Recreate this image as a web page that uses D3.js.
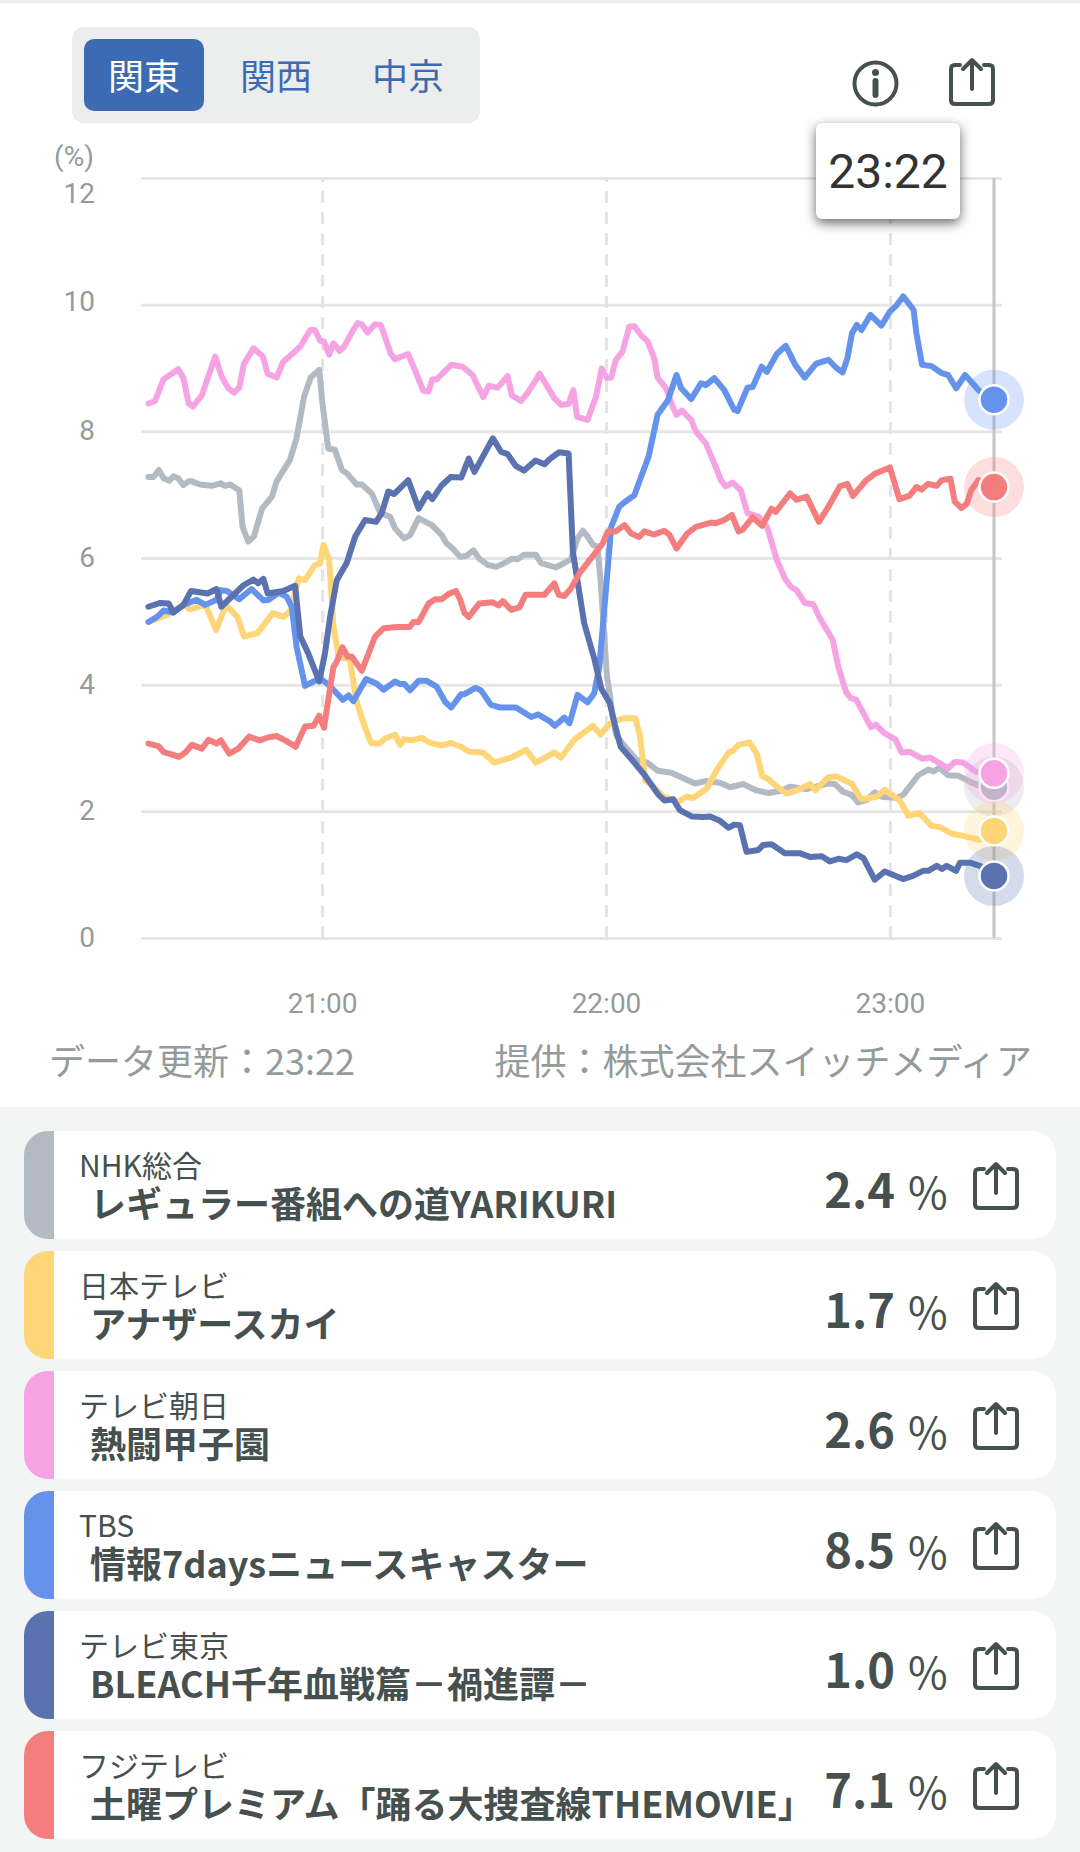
<!DOCTYPE html>
<html lang="ja">
<head>
<meta charset="utf-8">
<script src="https://cdn.jsdelivr.net/npm/d3@7"></script>
<style>
  html, body { margin: 0; padding: 0; background: #fff; }
  svg { display: block; font-family: "Noto Sans CJK JP", "Noto Sans", sans-serif; }
</style>
</head>
<body>
<div id="chart"></div>
<script>
// minutes after 21:00 paired with the rating in percent
const nhk = [[-36.7,7.28],[-35.6,7.28],[-34.5,7.39],[-33.5,7.26],[-32.3,7.22],[-31.4,7.29],[-30.4,7.26],[-29.3,7.15],[-28.2,7.21],[-27.5,7.21],[-25.8,7.16],[-23.3,7.14],[-21.5,7.18],[-20.5,7.14],[-19.4,7.16],[-17.5,7.07],[-16.8,6.49],[-15.6,6.26],[-14.4,6.34],[-12.7,6.78],[-10.6,6.97],[-9.6,7.21],[-6.8,7.55],[-5.4,7.89],[-3.8,8.55],[-2.4,8.85],[-0.6,8.97],[0,8.49],[0.8,8.02],[1.3,7.73],[2.7,7.71],[4.2,7.39],[5.2,7.34],[7.3,7.16],[8.4,7.16],[10.5,7.02],[12.3,6.71],[14.4,6.65],[15.4,6.47],[17.3,6.31],[18.6,6.36],[20.4,6.63],[23.2,6.52],[25.3,6.36],[26.3,6.23],[27.6,6.15],[29.2,6.02],[30.4,6.03],[32,6.12],[33.2,5.99],[35,5.89],[36.8,5.86],[38.6,5.92],[40.1,5.99],[41.3,5.98],[42.7,6.05],[45.2,6.05],[46.3,5.92],[49.4,5.85],[51.6,5.94],[52.6,5.98],[54,6.31],[55.1,6.43],[56.1,6.34],[57.2,6.21],[58.2,6.18],[58.9,5.6],[59.6,4.81],[60.2,4.13],[60.8,3.86],[61.4,3.49],[62.2,3.2],[63.7,3.05],[66.5,2.81],[68.7,2.77],[71,2.64],[73.8,2.61],[76.7,2.51],[78.8,2.44],[81.3,2.48],[84.1,2.45],[86.2,2.38],[87.3,2.4],[89,2.43],[91.8,2.33],[94.3,2.29],[96.8,2.32],[98.9,2.39],[102.4,2.35],[107,2.44],[108.4,2.43],[110.1,2.31],[111.9,2.26],[113.3,2.14],[115.1,2.18],[116.8,2.3],[118.3,2.23],[121.4,2.21],[122.8,2.26],[126,2.57],[128.1,2.66],[129.2,2.63],[130.4,2.69],[132.3,2.57],[134.5,2.56],[136.6,2.48],[139,2.4],[142,2.39]]

const ntv = [[-36.7,4.99],[-32.8,5.1],[-29.3,5.26],[-27.9,5.19],[-24.7,5.26],[-24,5.15],[-22.4,4.86],[-20.3,5.26],[-17.9,5.07],[-16.5,4.76],[-13.7,4.81],[-10.4,5.13],[-8.2,5.07],[-6.8,5.15],[-4.9,5.68],[-3.6,5.65],[-1.5,5.89],[-0.4,5.92],[0.3,6.21],[1.5,5.97],[2.4,4.92],[3.5,4.44],[5.9,4.39],[7.2,3.76],[8.4,3.47],[10.3,3.08],[12.1,3.07],[13.3,3.15],[15.4,3.21],[16.5,3.05],[17.3,3.14],[18.9,3.12],[21.1,3.16],[22.8,3.08],[25.3,3.04],[27.3,3.08],[29.4,3.02],[31.1,2.94],[34,2.93],[36.4,2.77],[40,2.85],[43.1,2.97],[45.2,2.77],[49.1,2.93],[50.5,2.85],[53.3,3.13],[57.2,3.35],[58.9,3.21],[60.7,3.38],[62.1,3.43],[63.9,3.47],[66.2,3.47],[67.2,3.18],[68.3,2.49],[70,2.39],[72.2,2.23],[75.3,2.15],[77,2.23],[78.4,2.21],[81.3,2.36],[83.4,2.65],[85.8,2.92],[86.9,2.96],[88,3.05],[90.3,3.09],[91.8,2.92],[93,2.56],[94.3,2.51],[96.1,2.39],[98.2,2.28],[100.6,2.34],[103.1,2.43],[104.2,2.33],[107,2.54],[108.7,2.55],[111.9,2.44],[114,2.19],[117.2,2.23],[118.9,2.34],[122.1,2.17],[123.9,1.93],[126.3,1.97],[128.8,1.77],[130.6,1.75],[133,1.65],[136.2,1.6],[139,1.55],[142,1.69]]

const asahi = [[-36.7,8.44],[-35.3,8.48],[-33.5,8.82],[-30.4,8.98],[-29.3,8.84],[-28.2,8.44],[-27.3,8.39],[-25.4,8.57],[-22.6,9.18],[-21.2,8.86],[-19.8,8.68],[-18.6,8.61],[-17.5,8.69],[-16.5,9.07],[-14.5,9.31],[-12.5,9.18],[-11.5,8.91],[-9.6,8.85],[-8.2,9.1],[-6.8,9.19],[-4.6,9.34],[-2.5,9.6],[-1.5,9.6],[-0.4,9.43],[0.4,9.42],[1.5,9.21],[2.4,9.39],[3.7,9.27],[4.6,9.33],[5.9,9.51],[7.5,9.71],[8.4,9.69],[9.6,9.56],[11.2,9.69],[12.4,9.68],[14.5,9.23],[15.4,9.14],[18.2,9.22],[19.6,8.97],[21.4,8.64],[22.5,8.63],[23.3,8.82],[24.2,8.82],[27.3,9.05],[29.7,9.02],[31.8,8.89],[32.8,8.73],[34.1,8.54],[35.2,8.72],[37.1,8.69],[39.2,8.87],[40.1,8.57],[42,8.48],[43.4,8.6],[46,8.91],[49.1,8.52],[50.5,8.42],[52.1,8.43],[53.1,8.65],[53.9,8.23],[56.1,8.18],[57.9,8.55],[59.1,8.99],[60.2,8.84],[61.1,8.85],[62.1,9.13],[63.5,9.26],[64.9,9.65],[66,9.66],[67.4,9.52],[68.8,9.42],[70.2,9.15],[70.9,8.85],[72.7,8.68],[74.1,8.39],[74.9,8.26],[76,8.33],[78,8.18],[79,8],[81.1,7.81],[83.2,7.44],[84.3,7.23],[85.3,7.13],[86.8,7.19],[88.5,7.07],[89.9,6.71],[92.3,6.65],[94.1,6.48],[95.2,6.2],[96.1,5.97],[97.8,5.68],[99,5.55],[100.3,5.49],[102,5.29],[103.8,5.27],[105.2,5.05],[107.9,4.71],[109.1,4.28],[110.7,3.89],[111.7,3.79],[112.9,3.76],[116,3.33],[117,3.37],[118.9,3.23],[121.1,3.14],[122.5,2.93],[124.2,2.94],[126.9,2.83],[128.5,2.85],[132.3,2.68],[133.7,2.78],[135.5,2.77],[138.3,2.62],[142,2.6]]

const tbs = [[-36.7,4.99],[-34.9,5.07],[-33.5,5.17],[-31.4,5.14],[-29.3,5.26],[-26.5,5.34],[-24.7,5.26],[-22.3,5.34],[-21.5,5.49],[-20.1,5.48],[-17.5,5.35],[-14.9,5.51],[-12.4,5.33],[-11.3,5.34],[-9.2,5.45],[-7.5,5.39],[-6.4,5.23],[-5.4,4.6],[-3.6,3.98],[-1.8,4.05],[-0.4,4.1],[1,4.02],[2.4,3.92],[4.4,3.76],[5.6,3.83],[6.6,3.74],[9.3,4.09],[11.5,4.02],[13,3.92],[15.4,4.05],[16.5,4.01],[17.4,4.01],[18.6,3.91],[20.4,4.06],[22.1,4.06],[24.2,3.97],[26,3.73],[27.3,3.64],[29.4,3.85],[30.1,3.85],[32.4,3.95],[33.6,3.91],[35.7,3.68],[37.5,3.64],[41,3.64],[44.2,3.49],[45.6,3.53],[48,3.43],[49.2,3.35],[51.2,3.48],[52.3,3.39],[54,3.84],[56.1,3.72],[57.5,3.86],[58.6,4.28],[59.5,5.07],[60.4,5.86],[61.1,6.49],[62.8,6.81],[63.9,6.88],[66,6.99],[67.4,7.28],[69,7.6],[70.9,8.26],[73.1,8.49],[74.9,8.89],[75.9,8.68],[78,8.51],[80.1,8.76],[81.1,8.73],[82.9,8.84],[85,8.65],[87.1,8.34],[87.8,8.32],[89.9,8.69],[91,8.7],[92.9,9.02],[94,8.94],[96.1,9.22],[98,9.35],[100,9.05],[102,8.85],[104.4,9.07],[107,9.13],[108.7,9],[110,8.93],[111,9.15],[112,9.55],[113,9.68],[114,9.6],[115.9,9.84],[118.2,9.67],[120,9.89],[121.4,9.99],[122.8,10.13],[125,9.92],[125.6,9.55],[126.8,9.05],[128.8,9.03],[130.9,8.92],[132.3,8.89],[134,8.68],[135.9,8.89],[139,8.63],[142,8.5]]

const tvTokyo = [[-36.7,5.23],[-34.2,5.29],[-32.4,5.28],[-31.4,5.14],[-29.3,5.26],[-27.7,5.48],[-24.2,5.44],[-22.3,5.51],[-21.3,5.23],[-16.6,5.57],[-14.5,5.66],[-13.5,5.6],[-12.4,5.67],[-11.5,5.44],[-8.2,5.48],[-5.7,5.56],[-4.6,4.76],[-2.9,4.49],[-0.6,4.05],[0.6,4.49],[1.7,5.07],[3.1,5.65],[5.2,5.92],[7,6.34],[9.1,6.6],[11.4,6.57],[12.6,6.71],[14,7.05],[15.2,7.01],[18.2,7.23],[20.4,6.78],[22.3,7.02],[23.3,6.93],[25.3,7.15],[27.2,7.28],[29.4,7.27],[31,7.57],[32.2,7.36],[36.1,7.89],[37.8,7.68],[39.2,7.64],[41,7.45],[42.7,7.38],[45.1,7.54],[47,7.48],[48.4,7.58],[50.1,7.67],[52.1,7.65],[53,6.1],[54.4,5.44],[55.4,4.97],[57.6,4.39],[59,3.94],[60.8,3.71],[61.9,3.36],[63.1,3.02],[66.1,2.76],[68.2,2.57],[71.1,2.26],[72.4,2.17],[74.2,2.19],[75.6,2.02],[78.1,1.92],[80.6,1.91],[82,1.92],[84.1,1.85],[85.9,1.74],[87.1,1.79],[88.3,1.78],[89.7,1.36],[92.2,1.39],[93.2,1.47],[95,1.48],[97.8,1.34],[100.9,1.34],[103.1,1.28],[105.6,1.29],[107.3,1.21],[109.1,1.25],[110.8,1.23],[113,1.32],[114.4,1.26],[116.8,0.92],[118.9,1.05],[122.8,0.93],[124.9,0.98],[127,1.06],[128.1,1.06],[129.9,1.14],[131,1.09],[132,1.14],[134,1.06],[134.8,1.19],[136.9,1.19],[139,1.14],[142,0.98]]

const fuji = [[-36.7,3.07],[-34.6,3.03],[-33.4,2.93],[-31.8,2.9],[-30.2,2.86],[-28.9,2.93],[-27.5,3.05],[-25.4,2.99],[-24,3.13],[-22.3,3.07],[-21.4,3.12],[-19.6,2.91],[-17.7,2.99],[-15.4,3.18],[-13.2,3.12],[-11.3,3.17],[-9.6,3.19],[-7.8,3.12],[-5.6,3.02],[-3.6,3.34],[-1.8,3.35],[-0.6,3.51],[0.4,3.32],[1.3,3.76],[2.4,4.28],[3.1,4.36],[4.3,4.59],[5.4,4.44],[6.3,4.44],[8.4,4.22],[11.2,4.76],[13,4.89],[15.8,4.91],[18.5,4.91],[19.3,4.99],[20.4,4.99],[22.5,5.28],[23.9,5.35],[25.3,5.35],[26.7,5.43],[28.3,5.48],[29.2,5.34],[30.1,5.13],[31,5.07],[33.2,5.28],[36.1,5.3],[37.3,5.25],[38.2,5.32],[40,5.18],[41.7,5.22],[43,5.42],[47,5.42],[49.1,5.6],[50,5.42],[51.2,5.4],[52.6,5.52],[54.4,5.76],[59.3,6.23],[60.4,6.42],[62.1,6.42],[63.9,6.52],[65.3,6.39],[67,6.33],[68.1,6.42],[70.2,6.37],[72.3,6.43],[73.4,6.37],[74.9,6.15],[77.2,6.39],[79,6.49],[82.2,6.56],[83.2,6.55],[85,6.6],[86.6,6.68],[88,6.42],[88.9,6.45],[91,6.64],[93,6.51],[95,6.78],[95.9,6.73],[98.9,7.02],[100.3,6.92],[102.4,6.97],[105,6.57],[107,6.81],[109.4,7.13],[111,7.17],[112.2,6.98],[114.9,7.22],[116.8,7.33],[120,7.43],[122,6.93],[124.1,6.98],[125.6,7.12],[126.7,7.08],[128,7.17],[129.9,7.14],[131,7.23],[132.8,7.25],[133.7,6.89],[135.1,6.79],[136.2,6.85],[137.2,7.07],[138.7,7.23],[142,7.12]]

const seriesValues = [nhk, ntv, asahi, tbs, tvTokyo, fuji]
const stations = ['NHK総合', '日本テレビ', 'テレビ朝日', 'TBS', 'テレビ東京', 'フジテレビ']
const programs = ['レギュラー番組への道YARIKURI', 'アナザースカイ', '熱闘甲子園', '情報7daysニュースキャスター', 'BLEACH千年血戦篇－禍進譚－', '土曜プレミアム「踊る大捜査線THEMOVIE」']
const ratings = ['2.4', '1.7', '2.6', '8.5', '1.0', '7.1']
const colors = ['#b3bac3', '#fed677', '#f6a3e4', '#6593ec', '#5a72b0', '#f47e7e']
const regions = ['関東', '関西', '中京']
const yTicks = [0, 2, 4, 6, 8, 10, 12]
const xTicks = [0, 60, 120]
const xTickLabels = ['21:00', '22:00', '23:00']
const cursorMinute = 142
const cursorLabel = '23:22'

const ink = '#46504f'
const blue = '#3c6ab3'
const gray = '#949b9b'

const svg = d3.select('#chart').append('svg')
    .attr('width', 1080)
    .attr('height', 1852)

// page background bands
svg.append('rect').attr('width', 1080).attr('height', 3).attr('fill', '#eceeee')
svg.append('rect').attr('y', 1107).attr('width', 1080).attr('height', 745).attr('fill', '#f3f5f5')

// region switch
svg.append('rect').attr('x', 72).attr('y', 27).attr('width', 408).attr('height', 96).attr('rx', 12).attr('fill', '#eceeee')
svg.append('rect').attr('x', 84).attr('y', 39).attr('width', 120).attr('height', 72).attr('rx', 10).attr('fill', blue)
svg.selectAll('.region')
    .data(regions)
    .enter()
    .append('text')
        .attr('class', 'region')
        .attr('x', (d, i) => [144, 276, 408][i])
        .attr('y', 90)
        .attr('text-anchor', 'middle')
        .attr('font-size', 36)
        .attr('fill', (d, i) => i === 0 ? '#fff' : blue)
        .text(d => d)

// share icon, also used on every card
const drawShare = (x, y) => {
    svg.append('path')
        .attr('d', `M${x + 11},${y + 7}H${x + 6}q-4,0,-4,4V${y + 42}q0,4,4,4H${x + 40}q4,0,4,-4V${y + 11}q0,-4,-4,-4H${x + 35}`
            + `M${x + 23},${y + 31}V${y + 2}M${x + 14},${y + 11}L${x + 23},${y + 2}L${x + 32},${y + 11}`)
        .attr('fill', 'none')
        .attr('stroke', ink)
        .attr('stroke-width', 4)
        .attr('stroke-linecap', 'round')
        .attr('stroke-linejoin', 'round')
}

// info icon
svg.append('circle').attr('cx', 875.5).attr('cy', 83.5).attr('r', 21).attr('fill', 'none').attr('stroke', ink).attr('stroke-width', 4)
svg.append('circle').attr('cx', 875.5).attr('cy', 72.5).attr('r', 3.5).attr('fill', ink)
svg.append('line').attr('x1', 875.5).attr('x2', 875.5).attr('y1', 81).attr('y2', 95).attr('stroke', ink).attr('stroke-width', 6).attr('stroke-linecap', 'round')
drawShare(949, 58)

// scales
const xScale = d3.scaleLinear().domain([-37, 142]).range([147, 994])
const yScale = d3.scaleLinear().domain([0, 12]).range([938, 178])

// horizontal grid and y labels
const yAxis = svg.append('g')
    .attr('transform', 'translate(141, 0)')
    .call(d3.axisLeft(yScale).tickValues(yTicks).tickSize(-861).tickPadding(46))
yAxis.select('.domain').remove()
yAxis.selectAll('.tick line').attr('stroke', '#e6e6e6').attr('stroke-width', 3)
yAxis.selectAll('.tick text')
    .attr('font-family', 'Roboto')
    .attr('font-size', 28)
    .attr('fill', gray)
    .attr('dy', d => d === 12 ? '0.86em' : d === 10 ? '0.22em' : '0.3em')

svg.append('text')
    .attr('x', 74)
    .attr('y', 166)
    .attr('text-anchor', 'middle')
    .attr('font-family', 'Roboto')
    .attr('font-size', 28)
    .attr('fill', gray)
    .text('(%)')

// hourly dashed lines and x labels
const xAxis = svg.append('g')
    .attr('transform', 'translate(0, 938)')
    .call(d3.axisBottom(xScale).tickValues(xTicks).tickSize(-760).tickPadding(75).tickFormat((d, i) => xTickLabels[i]))
xAxis.select('.domain').remove()
xAxis.selectAll('.tick line').attr('stroke', '#e4e4e4').attr('stroke-width', 3).attr('stroke-dasharray', '12, 9')
xAxis.selectAll('.tick text')
    .attr('font-family', 'Roboto')
    .attr('font-size', 28)
    .attr('fill', gray)
    .attr('dy', '0')

// cursor
svg.append('line')
    .attr('x1', xScale(cursorMinute)).attr('x2', xScale(cursorMinute))
    .attr('y1', 178).attr('y2', 938)
    .attr('stroke', '#c6c6c6')
    .attr('stroke-width', 3)

// rating lines
const line = d3.line().x(d => xScale(d[0])).y(d => yScale(d[1]))
svg.selectAll('.rating')
    .data(seriesValues)
    .enter()
    .append('path')
        .attr('class', 'rating')
        .attr('fill', 'none')
        .attr('stroke', (d, i) => colors[i])
        .attr('stroke-width', 6)
        .attr('stroke-linejoin', 'round')
        .attr('stroke-linecap', 'round')
        .attr('d', line)

// end markers with halo
const markers = svg.selectAll('.marker')
    .data(seriesValues)
    .enter()
    .append('g')
        .attr('class', 'marker')
        .attr('transform', d => {
            const last = d[d.length - 1]
            return `translate(${xScale(last[0])}, ${yScale(last[1])})`
        })
markers.append('circle').attr('r', 30).attr('fill', (d, i) => colors[i]).attr('fill-opacity', 0.26)
markers.append('circle').attr('r', 14.5).attr('fill', (d, i) => colors[i]).attr('stroke', '#fff').attr('stroke-width', 2.5)

// time tooltip
svg.append('rect')
    .attr('x', 816).attr('y', 123).attr('width', 144).attr('height', 96).attr('rx', 6)
    .attr('fill', '#fff')
    .style('filter', 'drop-shadow(0 4px 6px rgba(0, 0, 0, 0.6))')
svg.append('text')
    .attr('x', 888).attr('y', 188)
    .attr('text-anchor', 'middle')
    .attr('font-family', 'Roboto')
    .attr('font-size', 48)
    .attr('fill', '#333')
    .text(cursorLabel)

// footer notes
svg.append('text')
    .attr('x', 49).attr('y', 1075)
    .attr('font-size', 36)
    .attr('fill', gray)
    .text(`データ更新：${cursorLabel}`)
svg.append('text')
    .attr('x', 1032).attr('y', 1075)
    .attr('text-anchor', 'end')
    .attr('font-size', 36)
    .attr('fill', gray)
    .text('提供：株式会社スイッチメディア')

// station cards
const cards = svg.selectAll('.card')
    .data(stations)
    .enter()
    .append('g')
        .attr('class', 'card')
        .attr('transform', (d, i) => `translate(0, ${1131 + i * 120})`)

cards.append('rect').attr('x', 24).attr('width', 70).attr('height', 108).attr('rx', 24).attr('fill', (d, i) => colors[i])
cards.append('rect').attr('x', 54).attr('width', 1002).attr('height', 108).attr('rx', 24).attr('fill', '#fff')
cards.append('rect').attr('x', 54).attr('width', 40).attr('height', 108).attr('fill', '#fff')

cards.append('text')
    .attr('x', 79).attr('y', 46)
    .attr('font-size', 30)
    .attr('fill', ink)
    .text(d => d)
cards.append('text')
    .attr('x', 90).attr('y', 87)
    .attr('font-size', 36)
    .attr('font-weight', 700)
    .attr('fill', ink)
    .text((d, i) => programs[i])
cards.append('text')
    .attr('x', 895).attr('y', 77)
    .attr('text-anchor', 'end')
    .attr('font-size', 47)
    .attr('font-weight', 700)
    .attr('fill', ink)
    .text((d, i) => ratings[i])
cards.append('text')
    .attr('x', 908).attr('y', 78)
    .attr('font-size', 43)
    .attr('fill', ink)
    .text('%')

stations.forEach((d, i) => drawShare(973, 1162 + i * 120))
</script>
</body>
</html>
